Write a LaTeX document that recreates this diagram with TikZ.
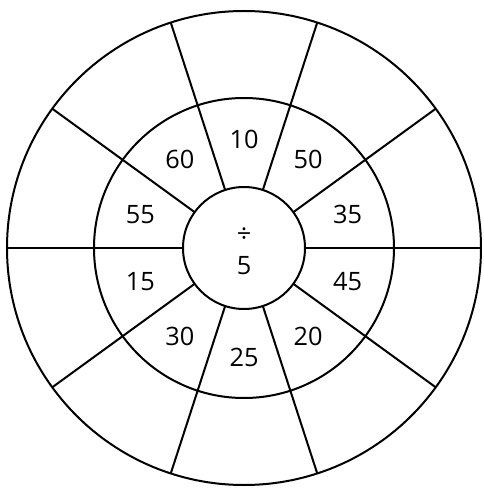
\documentclass[tikz,border=0pt]{standalone}
\usepackage{fontspec}
\setmainfont{Open Sans}
\usepackage{tikz}
\usetikzlibrary{positioning}

\begin{document}
\begin{tikzpicture}[x=0.75pt,y=0.75pt,
  ring/.style={draw=black, line width=1.5pt, circle, inner sep=0pt, outer sep=0pt},
  number/.style={font=\fontsize{19}{24}\selectfont, align=center},
  spoke/.style={line width=1.5pt, black}]

  \useasboundingbox (-244,-245) rectangle (240,248);

  \node[ring, minimum size=355.5pt] (rim) at (0,0) {};
  \node[ring, minimum size=225pt] (band) at (0,0) {};
  \node[ring, minimum size=91.5pt, fill=white] (hub) at (0,0) {};

  % spokes between the hub and the rim
  \foreach \a in {0,36,...,324}
    \draw[spoke] (hub.\a) -- (rim.\a);

  % numbers in the middle ring
  \foreach \n [count=\i] in {10,50,35,45,20,25,30,15,55,60}
    \node[number] (n\i) at ({90-36*(\i-1)}:109) {\n};

  \node[number] (op) at (0,-3) {÷\\5};
\end{tikzpicture}
\end{document}
